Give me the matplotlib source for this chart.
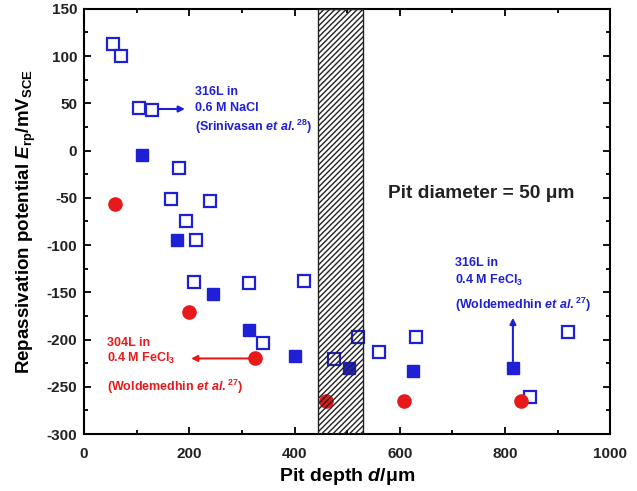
import matplotlib
matplotlib.use("Agg")
import matplotlib.pyplot as plt
from matplotlib.ticker import MultipleLocator

# Data
open_x = [55, 70, 105, 130, 180, 165, 240, 193, 212, 209, 314, 418, 340, 475, 520, 560, 631, 847, 919]
open_y = [113, 100, 45, 43, -18, -51, -53, -75, -95, -139, -140, -138, -204, -221, -197, -213, -197, -261, -192]
filled_x = [110, 177, 245, 314, 400, 504, 625, 815]
filled_y = [-5, -95, -152, -190, -217, -230, -233, -230]
red_x = [58, 200, 325, 460, 608, 830]
red_y = [-57, -171, -220, -265, -265, -265]
hatch_range = [445, 530]

blue = "#1f1fd6"
red = "#e8191b"

plt.rcParams['font.family'] = ['Liberation Sans', 'DejaVu Sans']
plt.rcParams['mathtext.fontset'] = 'custom'
plt.rcParams['mathtext.rm'] = 'Liberation Sans:bold'
plt.rcParams['mathtext.it'] = 'Liberation Sans:bold:italic'
plt.rcParams['mathtext.bf'] = 'Liberation Sans:bold'
plt.rcParams['hatch.linewidth'] = 1.0
plt.rcParams['axes.unicode_minus'] = False

fig = plt.figure(figsize=(6.37, 4.91), dpi=100)
ax = fig.add_axes([0.132, 0.116, 0.826, 0.866])

ax.axvspan(hatch_range[0], hatch_range[1], facecolor='white', edgecolor='none', zorder=1)
ax.axvspan(hatch_range[0], hatch_range[1], facecolor='none', edgecolor='#222222',
           hatch='//////', linewidth=1.0, zorder=4)

ax.plot(open_x, open_y, 's', mfc='white', mec=blue, mew=1.6, ms=8, ls='none', zorder=3)
ax.plot(filled_x, filled_y, 's', mfc=blue, mec=blue, ms=8.5, ls='none', zorder=3)
ax.plot(red_x, red_y, 'o', mfc=red, mec=red, ms=9.5, ls='none', zorder=3)

ax.set_xlim(0, 1000)
ax.set_ylim(-300, 150)
ax.xaxis.set_major_locator(MultipleLocator(200))
ax.xaxis.set_minor_locator(MultipleLocator(100))
ax.yaxis.set_major_locator(MultipleLocator(50))
ax.yaxis.set_minor_locator(MultipleLocator(25))
ax.tick_params(which='both', direction='in', top=True, right=True, width=1.3)
ax.tick_params(which='major', length=5, labelsize=11)
ax.tick_params(which='minor', length=3)
ax.tick_params(axis='x', pad=9)
ax.tick_params(axis='y', pad=5)
for lab in ax.get_xticklabels() + ax.get_yticklabels():
    lab.set_fontweight('bold')
    lab.set_color('#222222')
for s in ax.spines.values():
    s.set_linewidth(1.5)

ax.set_xlabel('Pit depth $d$/\u03bcm', fontsize=14, fontweight='bold', labelpad=4)
ax.set_ylabel(r'Repassivation potential $E_{\rm rp}$/mV$_{\rm SCE}$', fontsize=13.5,
              fontweight='bold', labelpad=6)

fs = 9


def block(x, ys, lines, color):
    for y, t in zip(ys, lines):
        ax.text(x, y, t, color=color, fontsize=fs, fontweight='bold', va='center', ha='left')


block(211, [62, 45, 25], ["316L in", "0.6 M NaCl", "(Srinivasan $et$ $al.$$^{28}$)"], blue)
ax.annotate('', xy=(197, 44), xytext=(136, 44),
            arrowprops=dict(arrowstyle='-|>', color=blue, lw=1.5, mutation_scale=9))

ax.text(578, -45, "Pit diameter = 50 \u03bcm", fontsize=13.8, fontweight='bold',
        va='center', ha='left', color='#222222')

block(705, [-119, -137, -163], ["316L in", "0.4 M FeCl$_3$", "(Woldemedhin $et$ $al.$$^{27}$)"], blue)
ax.annotate('', xy=(815, -174), xytext=(815, -226),
            arrowprops=dict(arrowstyle='-|>', color=blue, lw=1.5, mutation_scale=9))

block(43, [-204, -220, -250], ["304L in", "0.4 M FeCl$_3$", "(Woldemedhin $et$ $al.$$^{27}$)"], red)
ax.annotate('', xy=(198, -220), xytext=(318, -220),
            arrowprops=dict(arrowstyle='-|>', color=red, lw=1.5, mutation_scale=9))

fig.savefig('out.png', dpi=100)
